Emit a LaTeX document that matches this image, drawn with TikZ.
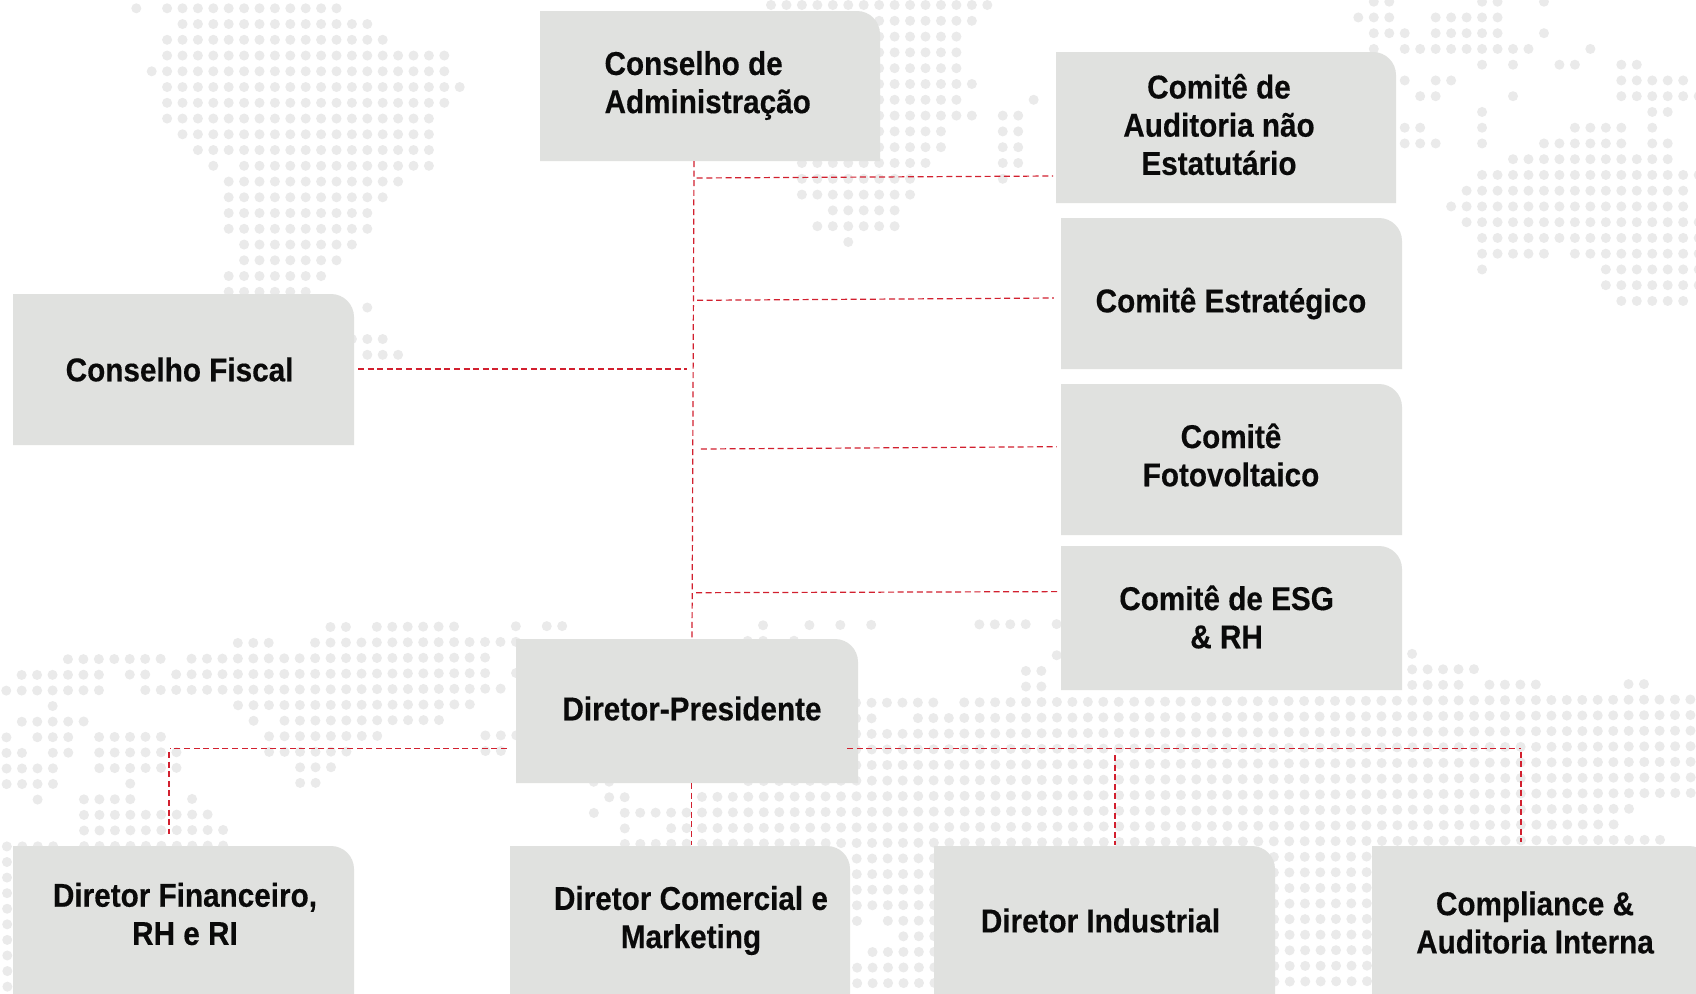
\documentclass[tikz,border=0pt]{standalone}
\usepackage{fontspec}
\setmainfont{Liberation Sans}[BoldFeatures={FakeStretch=0.90,FakeBold=0.35}]
\definecolor{boxc}{HTML}{E0E1DF}
\definecolor{dotc}{HTML}{EAEAEA}
\definecolor{linkc}{HTML}{D2202F}
\definecolor{inkc}{HTML}{0A0A0A}
\tikzset{
  boxtext/.style={text=inkc,font=\fontsize{33}{38.2}\selectfont\bfseries,inner sep=0pt,align=center},
  boxleft/.style={text=inkc,font=\fontsize{33}{38.2}\selectfont\bfseries,inner sep=0pt,align=left},
  link/.style={draw=linkc,line width=1.2pt,dash pattern=on 6pt off 3.6pt}
}
\newcommand\drow[2]{\foreach \a/\b in {#2}{\foreach \j in {\a,...,\b}{%
  \fill[dotc] ({\gx+\gdx*\j+\gt*#1*\gdy},{\gy+\gdy*#1-\gt*\gdx*\j}) circle[radius=5];}}}
\newcommand\gridbox[9]{% name x1 y1 x2 y2 tx ty style text
  \fill[boxc] (#2,#3) -- ({#4-23},#3) .. controls ({#4-10.3},#3) and (#4,{#3+10.3}) .. (#4,{#3+23}) -- (#4,#5) -- (#2,#5) -- cycle;
  \node[#8] (#1) at (#6,#7) {#9};}
\begin{document}
\begin{tikzpicture}[x=1pt,y=-1pt]
\useasboundingbox (0,0) rectangle (1696,993);
\clip (0,0) rectangle (1696,993);
\fill[white] (0,0) rectangle (1696,993);
% left top map
\def\gx{136.3}\def\gy{8.3}\def\gdx{15.4}\def\gdy{15.75}\def\gt{0}
\drow{0}{0/0,2/13}\drow{1}{3/15}\drow{2}{2/16}\drow{3}{2/20}\drow{4}{1/20}\drow{5}{2/21}
\drow{6}{2/20}\drow{7}{2/19}\drow{8}{3/19}\drow{9}{4/19}\drow{10}{5/5,7/19}\drow{11}{6/17}
\drow{12}{6/16}\drow{13}{6/15}\drow{14}{6/15}\drow{15}{7/14}\drow{16}{7/13}\drow{17}{6/12}
\drow{18}{6/11}\drow{19}{15/15}\drow{21}{14/16}\drow{22}{15/17}
% middle top map
\def\gx{771}\def\gy{5}\def\gdx{15.45}\def\gdy{15.8}
\drow{0}{0/14}\drow{1}{0/13}\drow{2}{0/12}\drow{3}{0/12}\drow{4}{0/12}\drow{5}{0/13}
\drow{6}{0/12,17/17}\drow{7}{0/13,15/16}\drow{8}{0/11,15/16}\drow{9}{0/11,15/16}
\drow{10}{2/10,15/16}\drow{11}{2/9,15/15}\drow{12}{2/9}\drow{13}{4/8}\drow{14}{3/8}\drow{15}{5/5}
% right top map
\def\gx{1358.3}\def\gy{1.7}\def\gdx{15.47}\def\gdy{15.75}
\drow{0}{1/2,8/9,12/12}\drow{1}{0/2,5/9}\drow{2}{1/3,5/9,12/12}\drow{3}{1/1,3/11,15/15}
\drow{4}{8/8,10/10,13/14,17/18}\drow{5}{3/3,5/6,17/21}\drow{6}{4/5,10/10,17/22}
\drow{7}{8/8,19/20}\drow{8}{3/4,8/8,14/17,19/19}\drow{9}{3/5,8/8,12/17,19/20}
\drow{10}{10/20}\drow{11}{8/22}\drow{12}{7/21}\drow{13}{6/21}\drow{14}{7/22}\drow{15}{8/22}
\drow{16}{8/12,14/22}\drow{17}{8/8,16/22}\drow{18}{16/22}\drow{19}{17/21}
% bottom map
\def\gx{6}\def\gy{628.3}\def\gdx{15.45}\def\gdy{15.58}\def\gt{0.004}
\drow{0}{21/22,24/29,33/33,35/36,49/49,52/52,54/54,56/56,63/66,68/68}
\drow{1}{15/17,20/33,48/49,51/51}
\drow{2}{4/10,12/31,68/68,91/91}
\drow{3}{1/6,8/9,11/31,33/33,66/67,91/95}
\drow{4}{0/6,9/32,66/67,91/94,96/99,105/106}
\drow{5}{3/3,15/30,55/60,62/109}
\drow{6}{1/5,16/16,18/28,55/56,59/109}
\drow{7}{0/0,2/4,6/10,17/24,31/33,55/109}
\drow{8}{0/1,3/4,6/11,17/22,31/32,55/109}
\drow{9}{0/3,6/11,19/21,55/109}
\drow{10}{0/3,8/8,19/20,38/39,48/109}
\drow{11}{2/2,5/8,12/12,39/40,45/109}
\drow{12}{5/13,38/38,40/105}
\drow{13}{5/14,40/40,43/104}
\drow{14}{0/3,5/14,40/107}
\drow{15}{0/0,55/60,82/88}\drow{16}{0/0,55/60,82/88}\drow{17}{0/0,55/60,82/88}
\drow{18}{0/0,55/60,82/88}\drow{19}{0/0,55/55,57/60,82/88}\drow{20}{0/0,58/60,82/88}
\drow{21}{0/0,56/60,82/88}\drow{22}{0/0,55/60,82/88}\drow{23}{0/0,55/60,82/88}
% boxes
\gridbox{ca}{540}{11}{880}{161}{707.7}{85.5}{boxleft}{Conselho de\\Administração}
\gridbox{aud}{1056}{52}{1396}{203}{1219}{124.5}{boxtext}{Comitê de\\Auditoria não\\Estatutário}
\gridbox{est}{1061}{218}{1402}{369}{1231}{303.5}{boxtext}{Comitê Estratégico}
\gridbox{fot}{1061}{384}{1402}{535}{1231}{455}{boxtext}{Comitê\\Fotovoltaico}
\gridbox{esg}{1061}{546}{1402}{690}{1226.6}{617}{boxtext}{Comitê de ESG\\\& RH}
\gridbox{fis}{13}{294}{354}{445}{179.6}{369.5}{boxtext}{Conselho Fiscal}
\gridbox{dp}{516}{639}{858}{783}{692}{708.5}{boxtext}{Diretor-Presidente}
\gridbox{df}{13}{846}{354}{1010}{185}{914}{boxtext}{Diretor Financeiro,\\RH e RI}
\gridbox{dc}{510}{846}{850}{1010}{691}{920.5}{boxtext}{Diretor Comercial e\\Marketing}
\gridbox{di}{934}{846}{1275}{1010}{1100.5}{920.5}{boxtext}{Diretor Industrial}
\gridbox{co}{1372}{846}{1712}{1010}{1535}{922.5}{boxtext}{Compliance \&\\Auditoria Interna}
% connector ends
\coordinate (trunkA) at (694,161);
\coordinate (trunkB) at (692,639);
\coordinate (audA) at (696.7,178); \coordinate (audB) at (1053,176);
\coordinate (estA) at (697,300.3); \coordinate (estB) at (1053.8,298);
\coordinate (fotA) at (700.9,449); \coordinate (fotB) at (1056.5,446.7);
\coordinate (esgA) at (696,592.7); \coordinate (esgB) at (1060,591.6);
\coordinate (fisA) at (358,369); \coordinate (fisB) at (687,369);
\coordinate (dpL) at (506.7,748.3); \coordinate (dpLc) at (169.5,748.3);
\coordinate (dfT) at (169,752); \coordinate (dfB) at (169,834);
\coordinate (dpR) at (847,748.3); \coordinate (dpRc) at (1521,748.3);
\coordinate (diT) at (1115,755); \coordinate (diB) at (1115,845);
\coordinate (coT) at (1521,751.7); \coordinate (coB) at (1521,842);
\coordinate (dpS) at (691.7,783); \coordinate (dcN) at (691.7,845);
\draw[link] (trunkA) -- (trunkB);
\draw[link] (audA) -- (audB);
\draw[link] (estA) -- (estB);
\draw[link] (fotA) -- (fotB);
\draw[link] (esgA) -- (esgB);
\draw[link] (fisA) -- (fisB);
\draw[link] (dpL) -- (dpLc);
\draw[link] (dfT) -- (dfB);
\draw[link] (dpR) -- (dpRc);
\draw[link] (diT) -- (diB);
\draw[link] (coT) -- (coB);
\draw[link] (dpS) -- (dcN);
\end{tikzpicture}
\end{document}
